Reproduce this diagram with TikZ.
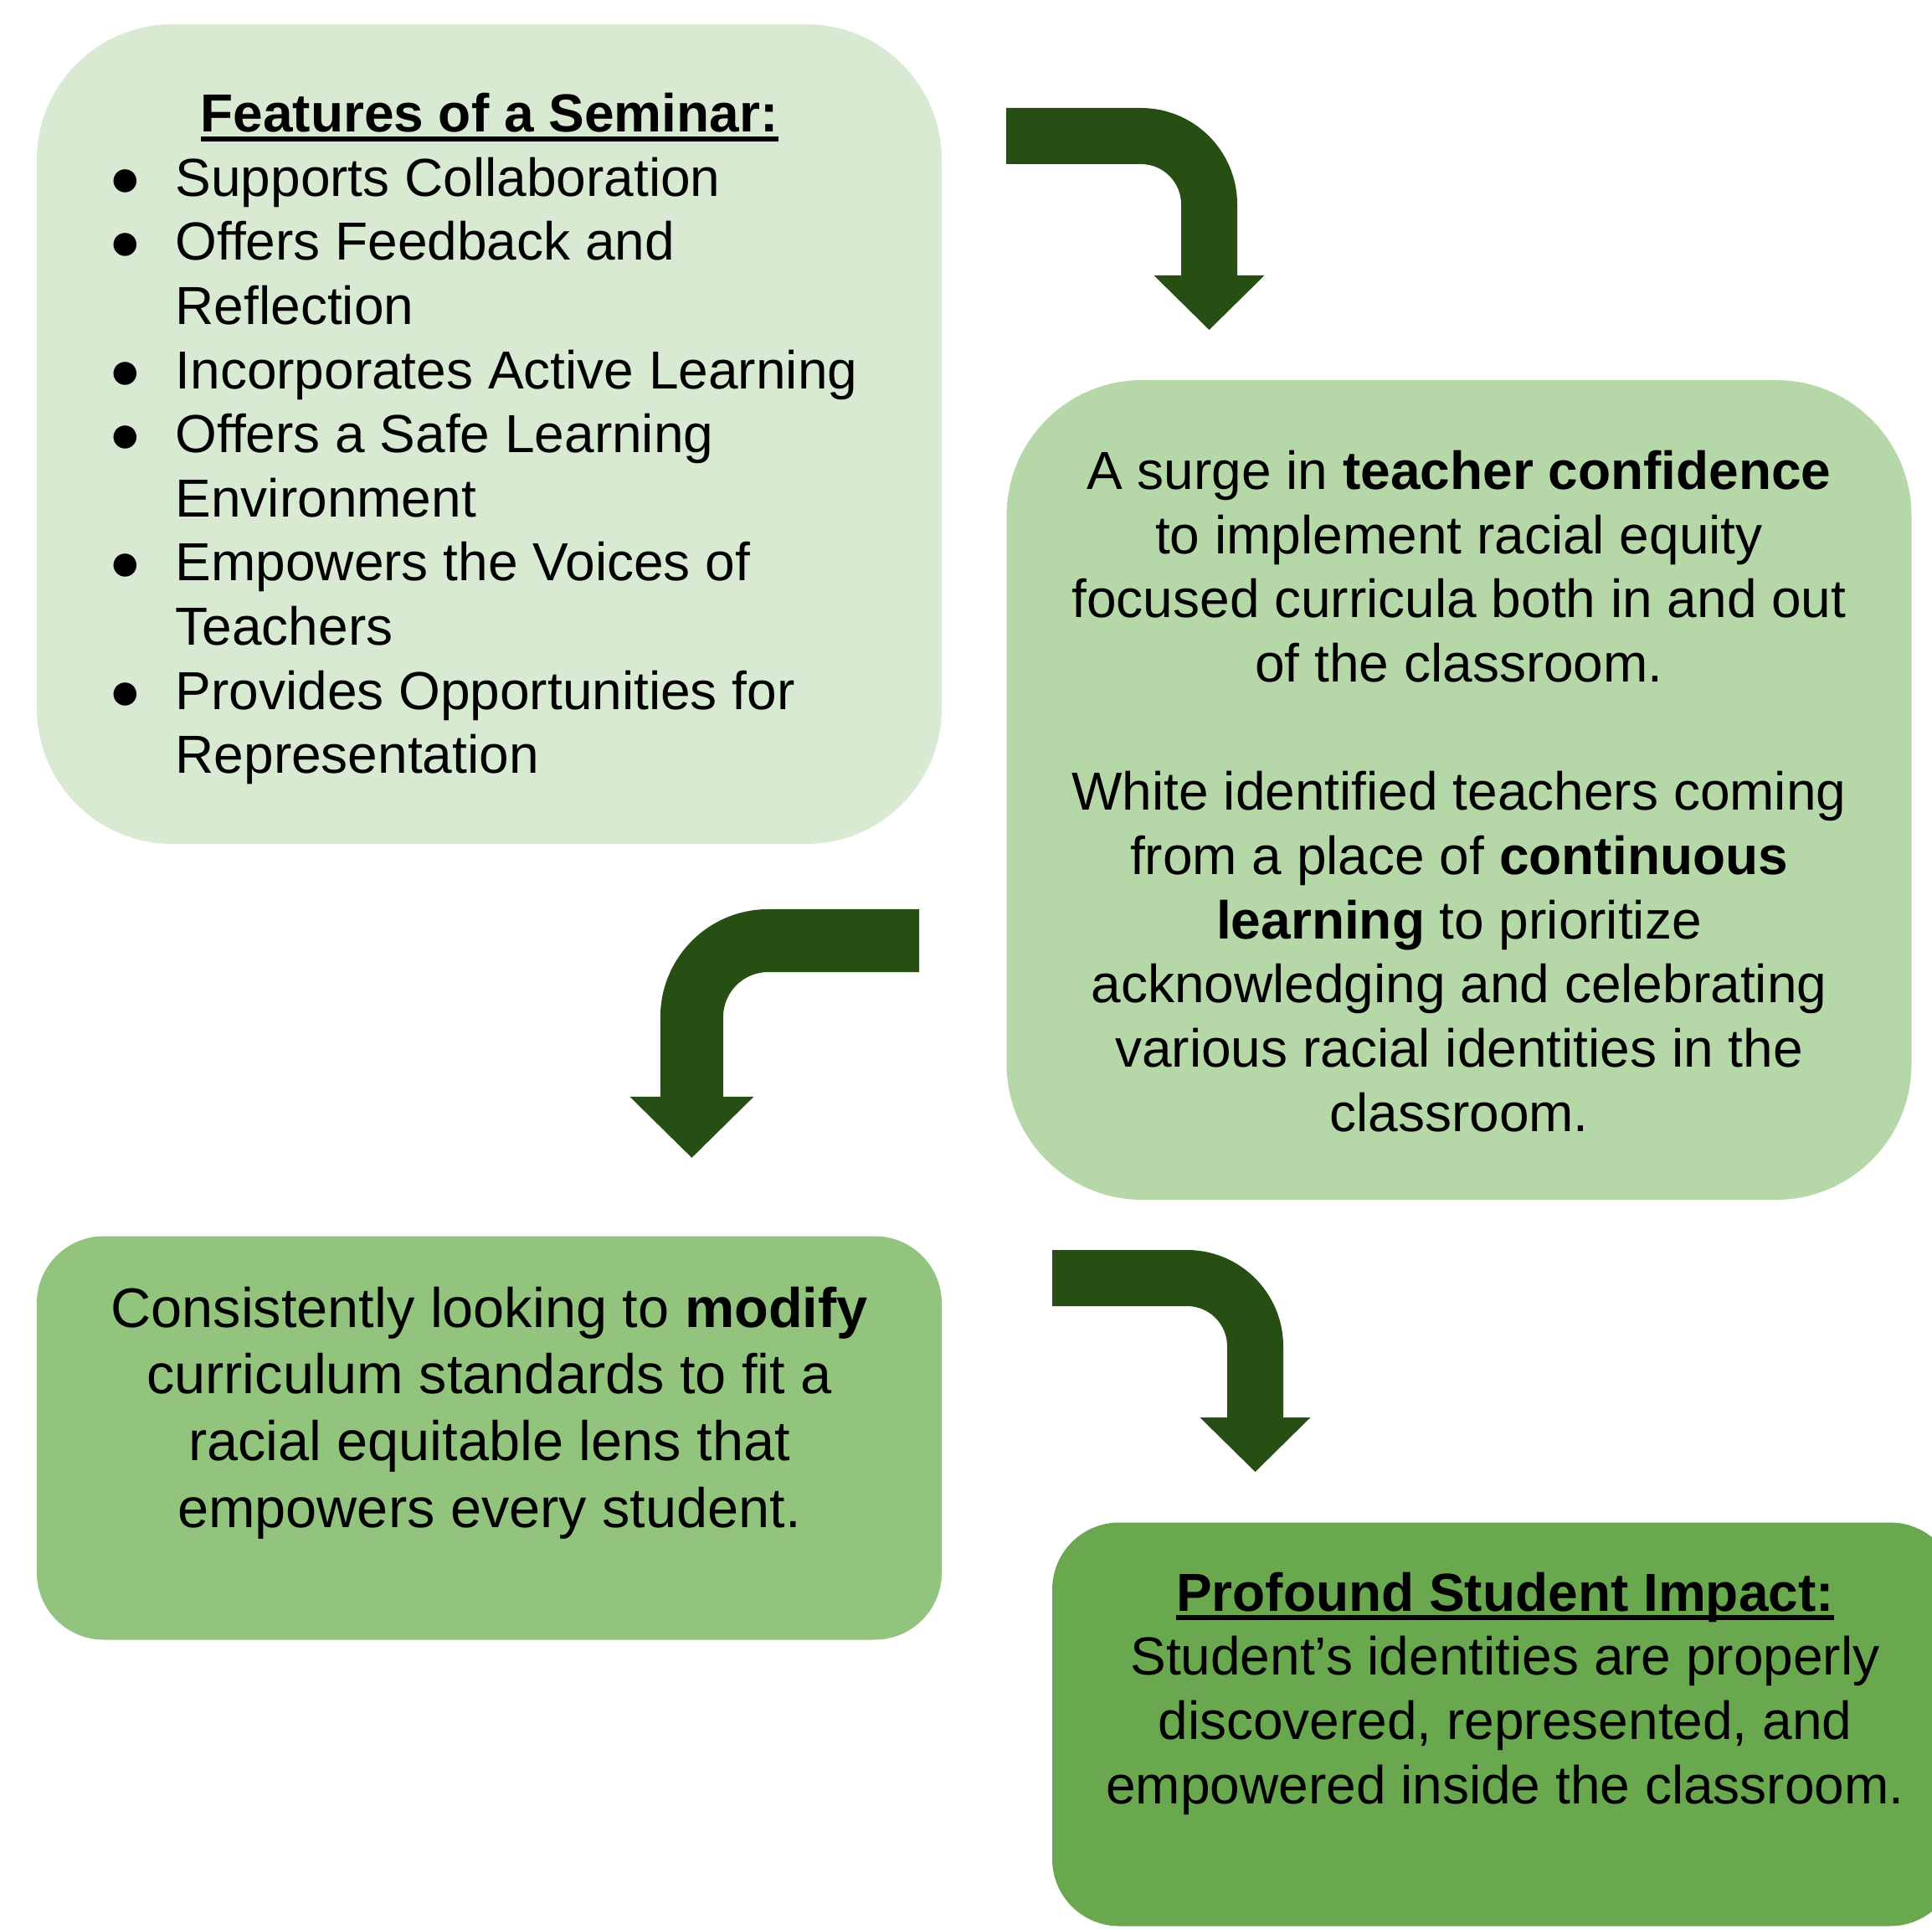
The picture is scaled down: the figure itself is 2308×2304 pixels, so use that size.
\documentclass[tikz,border=0pt]{standalone}
\usepackage{fontspec}
\setmainfont{Liberation Sans}
\usepackage{tikz}
\usetikzlibrary{positioning}
\definecolor{featgreen}{HTML}{D9EAD3}
\definecolor{confgreen}{HTML}{B6D7A8}
\definecolor{modgreen}{HTML}{93C47D}
\definecolor{impactgreen}{HTML}{6AA84F}
\definecolor{arrowgreen}{HTML}{274E13}
\newcommand{\Heading}[1]{%
  \setbox0=\hbox{\bfseries #1}%
  \rlap{\rule[-3.4pt]{\wd0}{1.8pt}}\box0}
\newcommand{\Bullet}{\makebox[23.7pt][l]{●}}
\tikzset{
    bent/.pic = {
    \fill[arrowgreen] (0,0) -- (161,0) arc[start angle=-90, end angle=0, radius=115]
      -- (276,200) -- (308.5,200) -- (242.5,265) -- (176.5,200) -- (209,200)
      -- (209,115) arc[start angle=0, end angle=-90, radius=48] -- (0,67) -- cycle;
    },
    box/.style={rectangle, minimum width=324.3pt, inner sep=0pt},
    bigbox/.style={box, minimum height=293.7pt, rounded corners=48.6pt},
    smallbox/.style={box, minimum height=144.6pt, rounded corners=24pt},
    txt/.style={inner sep=0pt, font=\fontsize{19.2}{23}\selectfont},
}

\begin{document}
\begin{tikzpicture}[x=0.3pt, y=-0.3pt]
    \useasboundingbox (0,0) rectangle (2308,2304);

    \node[bigbox, fill=featgreen] (feat) at (584.5,518.5) {};
    \node[bigbox, fill=confgreen] (conf) at (1743,943.5) {};
    \node[smallbox, fill=modgreen] (modif) at (584.5,1717.5) {};
    \node[smallbox, fill=impactgreen] (impact) at (1797.5,2059.5) {};

    % multi-line nodes sit on the baseline of their last line
    \node[txt, anchor=base] (featT) at (584.5,158) {\Heading{Features of a Seminar:}};
    \node[txt, anchor=base west, align=left] (featL) at (130,924) {%
      \Bullet Supports Collaboration\\
      \Bullet Offers Feedback and\\
      \hspace*{23.7pt}Reflection\\
      \Bullet Incorporates Active Learning\\
      \Bullet Offers a Safe Learning\\
      \hspace*{23.7pt}Environment\\
      \Bullet Empowers the Voices of\\
      \hspace*{23.7pt}Teachers\\
      \Bullet Provides Opportunities for\\
      \hspace*{23.7pt}Representation};

    \node[txt, anchor=base, align=center] (confT) at (1743,1351) {%
      A surge in \textbf{teacher confidence}\\
      to implement racial equity\\
      focused curricula both in and out\\
      of the classroom.\\[23pt]
      White identified teachers coming\\
      from a place of \textbf{continuous}\\
      \textbf{learning} to prioritize\\
      acknowledging and celebrating\\
      various racial identities in the\\
      classroom.};

    \node[txt, anchor=base, align=center, font=\fontsize{20}{23.9}\selectfont] (modifT) at (584.5,1824) {%
      Consistently looking to \textbf{modify}\\
      curriculum standards to fit a\\
      racial equitable lens that\\
      empowers every student.};

    \node[txt, anchor=base, align=center] (impactT) at (1798,2154) {%
      \Heading{Profound Student Impact:}\\
      Student’s identities are properly\\
      discovered, represented, and\\
      empowered inside the classroom.};

    % turning arrows between the boxes
    \pic at (1202,129) {bent};
    \pic[xscale=-1.12, yscale=1.12] at (1098,1086) {bent};
    \pic at (1257,1493) {bent};
\end{tikzpicture}
\end{document}
